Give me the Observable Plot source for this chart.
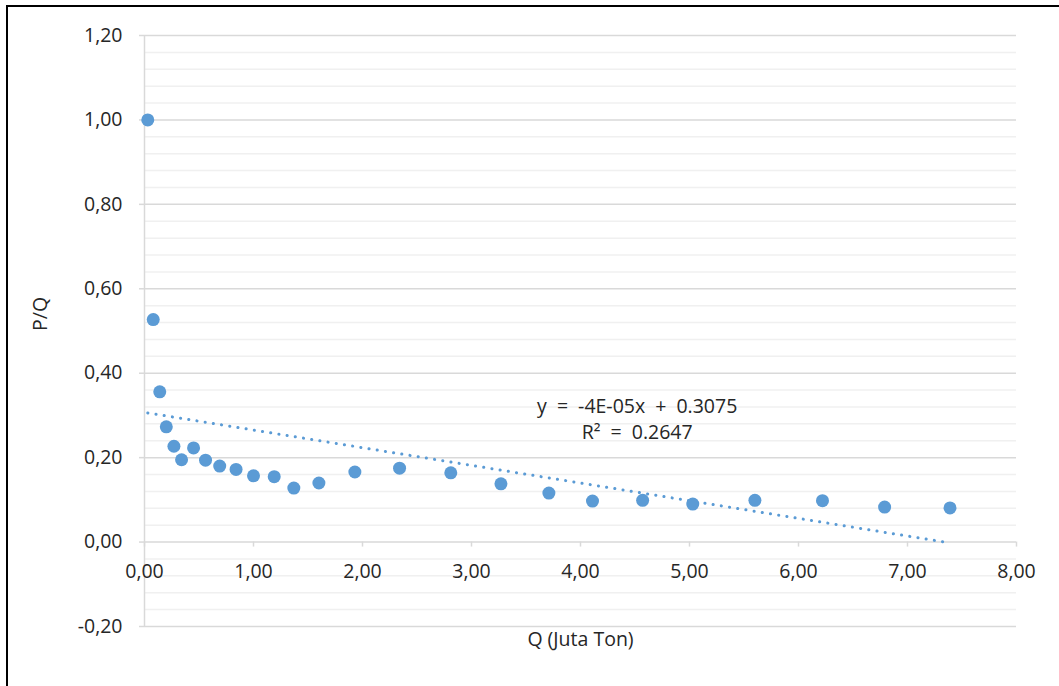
<!DOCTYPE html>
<html>
<head>
<meta charset="utf-8">
<script src="https://cdn.jsdelivr.net/npm/d3@7"></script>
<script src="https://cdn.jsdelivr.net/npm/@observablehq/plot@0.6"></script>
<style>
  html, body { margin: 0; padding: 0; background: #fff; }
  #wrap { position: relative; width: 1059px; height: 686px; overflow: hidden; }
  #frame { position: absolute; left: 6px; top: 5px; width: 1060px; height: 700px;
           border-top: 2px solid #000; border-left: 2px solid #000; box-sizing: border-box; }
  #chart { position: absolute; left: 0; top: 0; }
</style>
</head>
<body>
<div id="wrap"><div id="frame"></div><div id="chart"></div></div>
<script>
// Data
const qValues  = [0.03, 0.08, 0.14, 0.20, 0.27, 0.34, 0.45, 0.56, 0.69, 0.84, 1.00, 1.19, 1.37,
                  1.60, 1.93, 2.34, 2.81, 3.27, 3.71, 4.11, 4.57, 5.03, 5.60, 6.22, 6.79, 7.39];
const pqValues = [1.00, 0.527, 0.356, 0.273, 0.227, 0.195, 0.223, 0.194, 0.180, 0.172, 0.157, 0.155, 0.128,
                  0.140, 0.166, 0.175, 0.164, 0.138, 0.116, 0.097, 0.099, 0.090, 0.099, 0.098, 0.083, 0.081];
// Trendline end points (as drawn)
const trendQ  = [0.03, 7.39];
const trendPQ = [0.306, -0.002];
// Tick labels
const xTicks = [0, 1, 2, 3, 4, 5, 6, 7, 8];
const yTicks = [-0.2, 0, 0.2, 0.4, 0.6, 0.8, 1.0, 1.2];
const equationLines = ["y = -4E-05x + 0.3075", "R² = 0.2647"];
const equationQ  = [4.52, 4.52];
const equationPQ = [0.321, 0.259];
const xTitle = "Q (Juta Ton)";
const yTitle = "P/Q";

const points = qValues.map((q, i) => ({q, pq: pqValues[i]}));
const trend = trendQ.map((q, i) => ({q, pq: trendPQ[i]}));
const eq = equationLines.map((t, i) => ({t, q: equationQ[i], pq: equationPQ[i]}));
const minorTicks = d3.range(-0.2, 1.2001, 0.04).filter(v => !yTicks.some(m => Math.abs(m - v) < 1e-6));
const fmt = d => d.toFixed(2).replace(".", ",");

const FONT = "'Open Sans', Lato, sans-serif";
const TXT = "#262626";
const BLUE = "#5b9bd5";
const FS = 19.5;

const chart = Plot.plot({
  width: 1059, height: 686,
  marginLeft: 144, marginRight: 43, marginTop: 35, marginBottom: 60,
  style: {fontFamily: FONT, fontSize: FS + "px", color: TXT, background: "transparent"},
  x: {domain: [0, 8], axis: null},
  y: {domain: [-0.2, 1.2], axis: null},
  marks: [
    Plot.ruleY(minorTicks, {stroke: "#f0f0f0", strokeWidth: 1.5}),
    Plot.ruleY(yTicks, {stroke: "#d9d9d9", strokeWidth: 1.5}),
    Plot.ruleX([0], {stroke: "#d9d9d9", strokeWidth: 1.5}),
    // y tick marks
    Plot.ruleY(yTicks, {x1: 0, x2: 0, insetLeft: -5, stroke: "#d9d9d9", strokeWidth: 1.5}),
    // x tick marks at y = 0
    Plot.ruleX(xTicks, {y1: 0, y2: 0, insetBottom: -5, stroke: "#d9d9d9", strokeWidth: 1.5}),
    Plot.text(yTicks, {x: 0, y: d => d, text: fmt, textAnchor: "end", dx: -22, fill: TXT, fontSize: FS}),
    Plot.text(xTicks, {x: d => d, y: 0, text: fmt, dy: 30, fill: TXT, fontSize: FS}),
    Plot.line(trend, {x: "q", y: "pq", stroke: BLUE, strokeWidth: 3, strokeDasharray: "0.1 8.2", strokeLinecap: "round"}),
    Plot.dot(points, {x: "q", y: "pq", r: 6.5, fill: BLUE, stroke: "none"}),
    Plot.text(eq, {x: "q", y: "pq", text: "t", fill: TXT, fontSize: FS}),
    Plot.text([xTitle], {frameAnchor: "bottom", dy: 19, fill: TXT, fontSize: FS}),
    Plot.text([yTitle], {frameAnchor: "left", dx: -104, rotate: -90, fill: TXT, fontSize: FS})
  ]
});
chart.querySelectorAll("text").forEach(t => { if (/=/.test(t.textContent)) t.style.wordSpacing = "5px"; });
document.getElementById("chart").appendChild(chart);
</script>
</body>
</html>
